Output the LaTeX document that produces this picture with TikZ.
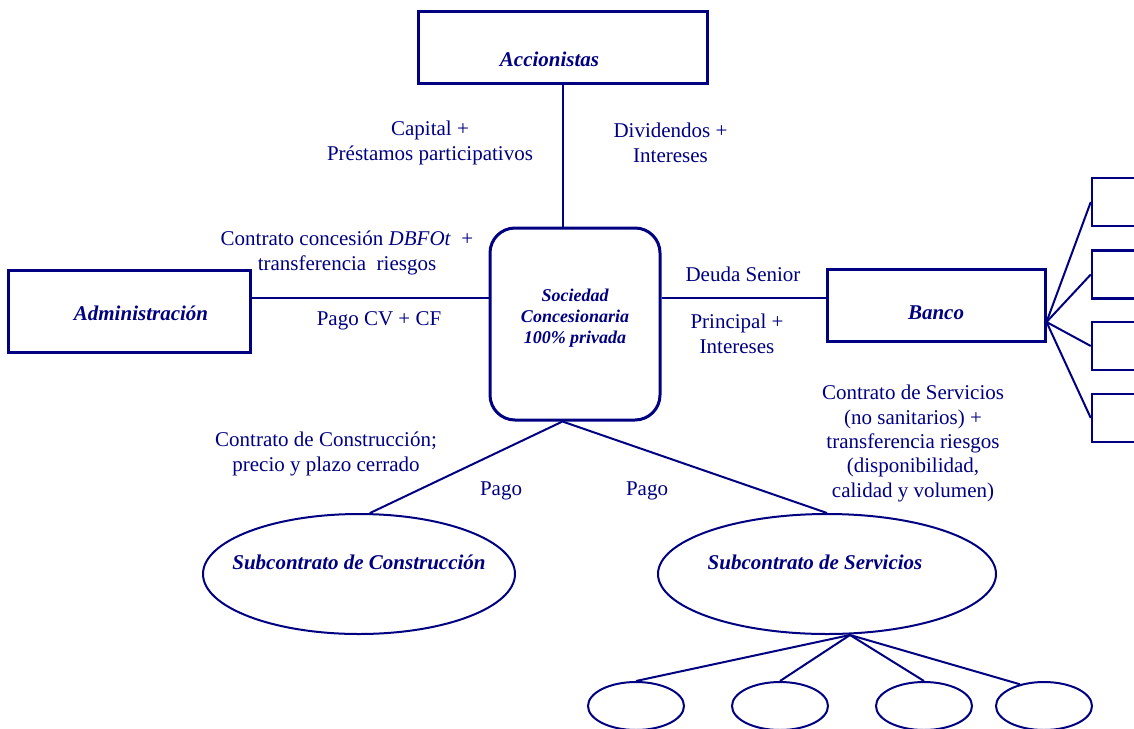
\documentclass[tikz,border=0pt]{standalone}
\usepackage{fontspec}
\setmainfont{Liberation Serif}
\usetikzlibrary{shapes.geometric}
\definecolor{marino}{RGB}{0,0,128}

\begin{document}
\begin{tikzpicture}[x=1pt,y=-1pt,
    caja/.style={draw=marino,line width=3pt,inner sep=0pt},
    elipse/.style={ellipse,draw=marino,line width=2pt,inner sep=0pt},
    linea/.style={draw=marino,line width=2pt},
    texto/.style={text=marino,align=center,font=\fontsize{21}{25}\selectfont},
    titulo/.style={text=marino,align=center,font=\fontsize{21}{25}\selectfont\bfseries\itshape}]

  \useasboundingbox (0,0) rectangle (1134,728);
  \clip (0,0) rectangle (1134,728);

  % cajas
  \node[caja,minimum width=289,minimum height=72] (acc) at (562.5,47) {};
  \node[caja,minimum width=242,minimum height=82] (adm) at (129,311) {};
  \node[caja,minimum width=218,minimum height=72] (ban) at (936,305) {};
  \node[caja,rounded corners=25pt,minimum width=170,minimum height=192] (soc) at (575,324) {};

  \node[titulo] (acc-t) at ([xshift=-13pt,yshift=-12pt]acc.center) {Accionistas};
  \node[titulo] (adm-t) at ([xshift=12pt,yshift=-2pt]adm.center) {Administración};
  \node[titulo] (ban-t) at ([yshift=-8pt]ban.center) {Banco};
  \node[titulo,font=\fontsize{18}{21}\selectfont\bfseries\itshape] (soc-t)
    at ([yshift=6pt]soc.center) {Sociedad\\Concesionaria\\100\% privada};

  % cajas a la derecha del banco
  \foreach \y [count=\i] in {202,274.5,346,418}
    \node[caja,line width=2.5pt,minimum width=60,minimum height=48] (b\i) at (1122,\y) {};

  % elipses
  \node[elipse,minimum width=312,minimum height=120] (con) at (359,574) {};
  \node[elipse,minimum width=338,minimum height=120] (ser) at (827,574) {};
  \node[titulo] (con-t) at ([yshift=12pt]con.center) {Subcontrato de Construcción};
  \node[titulo] (ser-t) at ([xshift=-12pt,yshift=12pt]ser.center) {Subcontrato de Servicios};

  \foreach \x [count=\i] in {636,780,924,1044}
    \node[elipse,minimum width=96,minimum height=48] (s\i) at (\x,706) {};

  % lineas
  \coordinate (eje) at (0,298);
  \coordinate (pie) at (acc.south |- soc.south);
  \coordinate (abanico) at ([yshift=-17pt]ban.east);
  \coordinate (raiz) at ([xshift=23pt]ser.south);

  \draw[linea] (acc.south) -- (acc.south |- soc.north);
  \draw[linea] (adm.east |- eje) -- (soc.west |- eje);
  \draw[linea] (soc.east |- eje) -- (ban.west |- eje);
  \draw[linea] (con.80) -- (pie) -- (ser.north);

  \foreach \i in {1,...,4}
    \draw[linea] (abanico) -- (b\i.west);

  \foreach \i in {1,2,3}
    \draw[linea] (raiz) -- (s\i.north);
  \draw[linea] (raiz) -- (s4.138);

  % textos
  \node[texto] (capital) at (430,142.5) {Capital +\\Préstamos participativos};
  \node[texto] (dividendos) at (670.5,142.5) {Dividendos +\\Intereses};
  \node[texto] (dbfot) at (347,252.5) {Contrato concesión \textit{DBFOt}\ \ +\\transferencia\ \ riesgos};
  \node[texto] (pagocv) at (379,321) {Pago CV + CF};
  \node[texto] (deuda) at (743,274) {Deuda Senior};
  \node[texto] (principal) at (737,334) {Principal +\\Intereses};
  \node[texto,font=\fontsize{21}{24.3}\selectfont] (servicios) at (913,443.5)
    {Contrato de Servicios\\(no sanitarios) +\\transferencia riesgos\\(disponibilidad,\\calidad y volumen)};
  \node[texto] (construccion) at (326,453.5) {Contrato de Construcción;\\precio y plazo cerrado};
  \node[texto] (pago1) at (501,491) {Pago};
  \node[texto] (pago2) at (647,491) {Pago};
\end{tikzpicture}
\end{document}
